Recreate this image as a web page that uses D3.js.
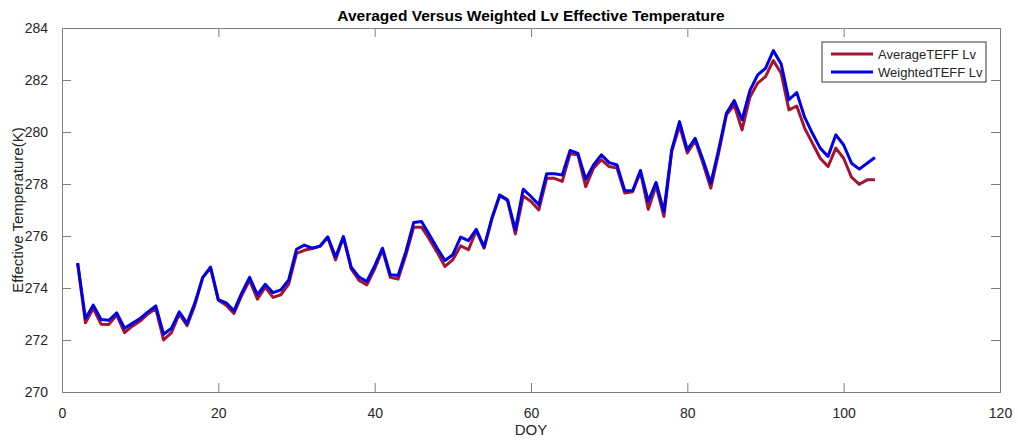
<!DOCTYPE html>
<html>
<head>
<meta charset="utf-8">
<script src="https://cdn.jsdelivr.net/npm/d3@7"></script>
<style>
  body { margin: 0; background: #fff; }
  svg { display: block; font-family: "Liberation Sans", Arial, sans-serif; }
</style>
</head>
<body>
<div id="chart"></div>
<script>
// day of year 2..104
const doy = d3.range(2, 105);

const averageTeff = [
  274.95, 272.66, 273.21, 272.61, 272.6, 272.96, 272.28, 272.53, 272.73, 273.0,
  273.21, 272.0, 272.28, 273.0, 272.55, 273.34, 274.4, 274.78, 273.53, 273.34,
  273.02, 273.72, 274.3, 273.57, 274.03, 273.64, 273.74, 274.15, 275.33, 275.45,
  275.52, 275.6, 275.94, 275.08, 275.96, 274.73, 274.29, 274.12, 274.73, 275.47,
  274.41, 274.34, 275.28, 276.34, 276.34, 275.88, 275.37, 274.83, 275.09, 275.62,
  275.47, 276.2, 275.53, 276.66, 277.55, 277.37, 276.08, 277.54, 277.33, 277.0,
  278.22, 278.22, 278.1, 279.16, 279.12, 277.9, 278.61, 278.93, 278.67, 278.61,
  277.65, 277.7, 278.46, 277.03, 277.93, 276.75, 279.25, 280.24, 279.19, 279.67,
  278.8, 277.84, 279.19, 280.66, 281.04, 280.08, 281.34, 281.88, 282.13, 282.75,
  282.26, 280.85, 281.0, 280.15, 279.57, 278.99, 278.67, 279.38, 278.99, 278.26,
  277.99, 278.16, 278.16
];

const weightedTeff = [
  274.96, 272.83, 273.34, 272.79, 272.76, 273.04, 272.45, 272.64, 272.83, 273.08,
  273.31, 272.22, 272.45, 273.08, 272.64, 273.43, 274.4, 274.8, 273.55, 273.43,
  273.12, 273.81, 274.41, 273.74, 274.14, 273.82, 273.93, 274.31, 275.49, 275.65,
  275.53, 275.61, 275.97, 275.19, 275.98, 274.8, 274.42, 274.25, 274.85, 275.53,
  274.51, 274.48, 275.41, 276.52, 276.56, 276.05, 275.53, 275.06, 275.28, 275.96,
  275.82, 276.26, 275.57, 276.69, 277.58, 277.39, 276.24, 277.8, 277.52, 277.2,
  278.39, 278.39, 278.35, 279.29, 279.18, 278.18, 278.73, 279.12, 278.82, 278.73,
  277.74, 277.74, 278.52, 277.33, 278.06, 276.94, 279.31, 280.4, 279.31, 279.76,
  278.93, 278.03, 279.31, 280.72, 281.21, 280.47, 281.59, 282.2, 282.45, 283.13,
  282.62, 281.24, 281.52, 280.57, 279.95, 279.38, 279.06, 279.89, 279.5, 278.8,
  278.57, 278.8, 279.02
];

const seriesNames = ['AverageTEFF Lv', 'WeightedTEFF Lv'];
const seriesColors = ['#a2142f', '#0000e6'];
const xTicks = [0, 20, 40, 60, 80, 100, 120];
const yTicks = [270, 272, 274, 276, 278, 280, 282, 284];

const width = 1018, height = 442;
const margin = { top: 28, right: 18, bottom: 50, left: 62 };
const innerW = width - margin.left - margin.right;
const innerH = height - margin.top - margin.bottom;

const svg = d3.select('#chart').append('svg')
  .attr('width', width)
  .attr('height', height);

const g = svg.append('g').attr('transform', `translate(${margin.left},${margin.top})`);

const x = d3.scaleLinear().domain([0, 120]).range([0, innerW]);
const y = d3.scaleLinear().domain([270, 284]).range([innerH, 0]);

const axisColor = '#7f7f7f';
const tickLen = 9;

// bottom + top axes (ticks pointing inward)
const xAxis = g.append('g')
  .attr('transform', `translate(0,${innerH})`)
  .call(d3.axisBottom(x).tickValues(xTicks).tickSize(-tickLen).tickPadding(16));
const xTop = g.append('g')
  .call(d3.axisTop(x).tickValues(xTicks).tickSize(-tickLen).tickFormat(''));
const yAxis = g.append('g')
  .call(d3.axisLeft(y).tickValues(yTicks).tickSize(-tickLen).tickPadding(14));
const yRight = g.append('g')
  .attr('transform', `translate(${innerW},0)`)
  .call(d3.axisRight(y).tickValues(yTicks).tickSize(-tickLen).tickFormat(''));

[xAxis, xTop, yAxis, yRight].forEach(a => {
  a.selectAll('.domain').attr('stroke', axisColor).attr('stroke-width', 1);
  a.selectAll('.tick line').attr('stroke', axisColor);
  a.selectAll('.tick text').attr('fill', '#262626').style('font-size', '14px');
});
// outermost ticks sit on the box edge, hide them
xAxis.selectAll('.tick line').filter(d => d === 0 || d === 120).remove();
xTop.selectAll('.tick line').filter(d => d === 0 || d === 120).remove();
yAxis.selectAll('.tick line').filter(d => d === 270 || d === 284).remove();
yRight.selectAll('.tick line').filter(d => d === 270 || d === 284).remove();

// lines
const line = d3.line()
  .x((d, i) => x(doy[i]))
  .y(d => y(d));

[averageTeff, weightedTeff].forEach((vals, k) => {
  g.append('path')
    .datum(vals)
    .attr('fill', 'none')
    .attr('stroke', seriesColors[k])
    .attr('stroke-width', 3)
    .attr('stroke-linejoin', 'round')
    .attr('d', line);
});

// title + axis labels
svg.append('text')
  .attr('x', margin.left + innerW / 2)
  .attr('y', 21)
  .attr('text-anchor', 'middle')
  .style('font-size', '15.5px')
  .style('font-weight', 'bold')
  .attr('fill', '#000')
  .text('Averaged Versus Weighted Lv Effective Temperature');

svg.append('text')
  .attr('x', margin.left + innerW / 2)
  .attr('y', 435)
  .attr('text-anchor', 'middle')
  .style('font-size', '15px')
  .attr('fill', '#262626')
  .text('DOY');

svg.append('text')
  .attr('transform', `translate(23,${margin.top + innerH / 2}) rotate(-90)`)
  .attr('text-anchor', 'middle')
  .style('font-size', '15px')
  .attr('fill', '#262626')
  .text('Effective Temperature(K)');

// legend
const legend = svg.append('g').attr('transform', 'translate(822,42)');
legend.append('rect')
  .attr('width', 164).attr('height', 40)
  .attr('fill', '#fff')
  .attr('stroke', '#333').attr('stroke-width', 1);
seriesNames.forEach((name, k) => {
  const yy = 12 + k * 18;
  legend.append('line')
    .attr('x1', 9).attr('x2', 51)
    .attr('y1', yy).attr('y2', yy)
    .attr('stroke', seriesColors[k]).attr('stroke-width', 3);
  legend.append('text')
    .attr('x', 56).attr('y', yy + 5)
    .style('font-size', '13px')
    .attr('fill', '#262626')
    .text(name);
});
</script>
</body>
</html>
